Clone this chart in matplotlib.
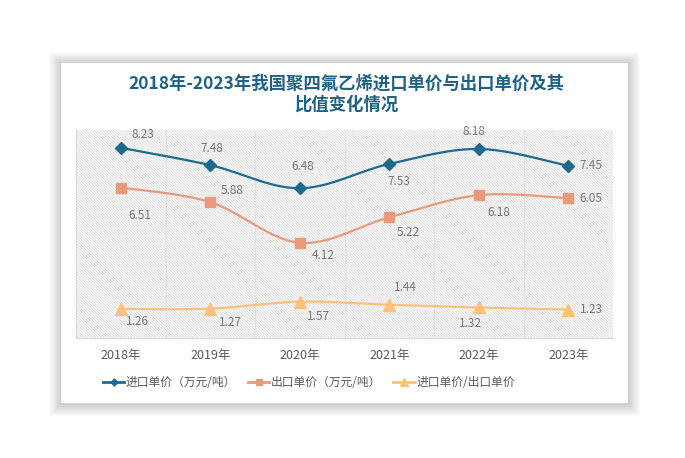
import numpy as np
import matplotlib
matplotlib.use("Agg")
import matplotlib.pyplot as plt
from matplotlib.patches import Rectangle
from matplotlib.lines import Line2D

plt.rcParams['font.family'] = ['Noto Sans CJK SC', 'DejaVu Sans']
plt.rcParams['hatch.color'] = '#D6D6D6'
plt.rcParams['hatch.linewidth'] = 0.6

# data
years = ['2018年', '2019年', '2020年', '2021年', '2022年', '2023年']
import_price = [8.23, 7.48, 6.48, 7.53, 8.18, 7.45]
export_price = [6.51, 5.88, 4.12, 5.22, 6.18, 6.05]
price_ratio = [1.26, 1.27, 1.57, 1.44, 1.32, 1.23]
series_names = ['进口单价（万元/吨）', '出口单价（万元/吨）', '进口单价/出口单价']

title = '2018年-2023年我国聚四氟乙烯进口单价与出口单价及其\n比值变化情况'

# label offsets in pixels (dx, dy up), one list per series
import_offsets = [(22, 13), (2, 17), (3, 22), (10, -18), (-5, 17), (23, 0)]
export_offsets = [(19, -28), (22, 12), (23, -13), (19, -15), (20, -17), (23, 0)]
ratio_offsets = [(17, -13), (20, -14), (19, -15), (16, 17), (-8, -16), (23, 0)]

colors = ['#1D6A8E', '#E89A7A', '#FFC07A']
markers = ['D', 's', '^']
marker_sizes = [6, 7, 8]

W, H = 685, 458


def smooth(xs, ys, n=30):
    # catmull-rom style bezier, like excel's smoothed lines
    p = np.column_stack([xs, ys]).astype(float)
    pts = np.vstack([p[0], p, p[-1]])
    out = []
    for i in range(1, len(pts) - 2):
        p0, p1, p2, p3 = pts[i - 1], pts[i], pts[i + 1], pts[i + 2]
        c1 = p1 + (p2 - p0) / 6
        c2 = p2 - (p3 - p1) / 6
        t = np.linspace(0, 1, n)[:, None]
        seg = ((1 - t) ** 3) * p1 + 3 * ((1 - t) ** 2) * t * c1 + 3 * (1 - t) * t ** 2 * c2 + t ** 3 * p2
        out.append(seg if i == 1 else seg[1:])
    out = np.vstack(out)
    return out[:, 0], out[:, 1]


fig = plt.figure(figsize=(W / 100, H / 100), dpi=100)
fig.patch.set_facecolor('white')

# card with a soft shadow
cx0, cy0, cx1, cy1 = 61, 63, 628, 403
for k in range(12, 0, -1):
    fig.patches.append(Rectangle(((cx0 - k) / W, 1 - (cy1 + k + 1) / H), (cx1 - cx0 + 2 * k) / W,
                                 (cy1 - cy0 + 2 * k) / H, transform=fig.transFigure,
                                 facecolor='black', edgecolor='none', alpha=0.016, zorder=0))
fig.patches.append(Rectangle((cx0 / W, 1 - cy1 / H), (cx1 - cx0) / W, (cy1 - cy0) / H,
                             transform=fig.transFigure, facecolor='white', edgecolor='none', zorder=1))

ax = fig.add_axes([76 / W, 1 - 338 / H, (613 - 76) / W, (338 - 130) / H])
ax.set_zorder(2)
ax.patch.set_facecolor('white')
ax.patch.set_edgecolor('#D9D9D9')
ax.patch.set_linewidth(0)
ax.patch.set_hatch('\\' * 12)

x = np.arange(len(years))
ax.set_xlim(-0.5, len(years) - 0.5)
ax.set_ylim(0, 9)

for b in np.arange(0.5, len(years) - 0.5, 1):
    ax.axvline(b, color='#E2E2E2', lw=0.8, zorder=1)

all_series = [import_price, export_price, price_ratio]
all_offsets = [import_offsets, export_offsets, ratio_offsets]
handles = []
for vals, offs, c, m, ms, name in zip(all_series, all_offsets, colors, markers, marker_sizes, series_names):
    sx, sy = smooth(x, vals)
    ax.plot(sx, sy, color=c, lw=1.6, zorder=3, solid_capstyle='round')
    ax.plot(x, vals, linestyle='none', marker=m, color=c, markersize=ms, zorder=4)
    for xi, v, (dx, dy) in zip(x, vals, offs):
        ax.annotate(f'{v:.2f}', (xi, v), xytext=(dx, dy), textcoords='offset pixels',
                    ha='center', va='center', fontsize=8.5, color='#777777', zorder=5)
    handles.append(Line2D([], [], color=c, lw=2, marker=m, markersize=ms - 2.5, label=name))

ax.set_xticks(x)
ax.set_xticklabels(years, fontsize=9, color='#595959')
ax.set_yticks([])
ax.tick_params(axis='x', length=0, pad=8)
for s in ['top', 'right']:
    ax.spines[s].set_visible(False)
for s in ['left', 'bottom']:
    ax.spines[s].set_color('#D9D9D9')
    ax.spines[s].set_linewidth(0.8)

fig.text(0.506, 1 - 94 / H, title, ha='center', va='center', fontsize=12.5,
         fontweight='bold', color='#1E6285', linespacing=1.2, zorder=3)

leg = fig.legend(handles=handles, loc='center', bbox_to_anchor=(309 / W, 1 - 383 / H), ncol=3,
                 frameon=False, fontsize=8.5, handlelength=1.8, handletextpad=0.15,
                 columnspacing=1.0, labelcolor='#595959')
leg.set_zorder(3)

fig.savefig('out.png', dpi=100)
